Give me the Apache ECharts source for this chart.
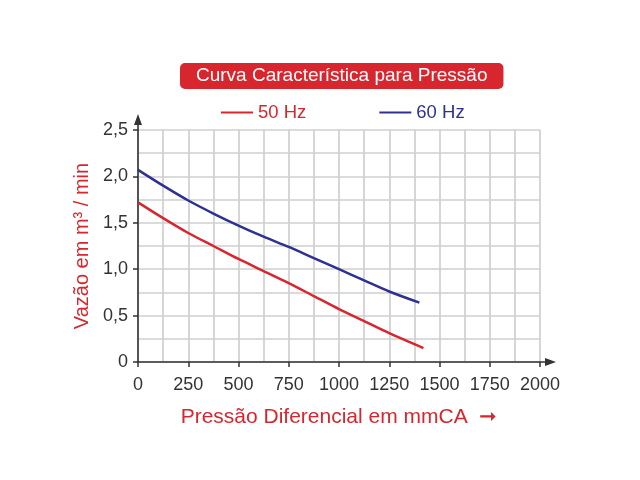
<!DOCTYPE html>
<html><head><meta charset="utf-8">
<script src="https://cdn.jsdelivr.net/npm/echarts@6/dist/echarts.min.js"></script>
<style>html,body{margin:0;padding:0;background:#fff}#c{width:640px;height:480px}</style>
</head><body><div id="c"></div>
<script>
const titleText = 'Curva Característica para Pressão';
const seriesNames = ['50 Hz', '60 Hz'];
const xAxisName = 'Pressão Diferencial em mmCA';
const yAxisName = 'Vazão em m³ / min';
const yTickLabels = ['0', '0,5', '1,0', '1,5', '2,0', '2,5'];
const xTickLabels = ['0', '250', '500', '750', '1000', '1250', '1500', '1750', '2000'];
const pressure50 = [0, 125, 250, 375, 500, 625, 750, 875, 1000, 1125, 1250, 1420];
const flow50 = [1.72, 1.55, 1.39, 1.25, 1.11, 0.98, 0.85, 0.71, 0.57, 0.44, 0.31, 0.15];
const pressure60 = [0, 125, 250, 375, 500, 625, 750, 875, 1000, 1125, 1250, 1400];
const flow60 = [2.07, 1.90, 1.74, 1.60, 1.47, 1.35, 1.24, 1.12, 1.00, 0.88, 0.76, 0.64];

const RED = '#d7262e', BLUE = '#2e3192';
const FONT = 'Liberation Sans, Arial, sans-serif';
const ARROW = 'path://M4,0 L8,11 L0,11 Z M3.2,10 L4.8,10 L4.8,16 L3.2,16 Z';
const chart = echarts.init(document.getElementById('c'));
const gridLine = {show: true, lineStyle: {color: '#cfcfcf', width: 1.7}};
const axisLine = {show: true, lineStyle: {color: '#333', width: 1.6}, symbol: ['none', ARROW], symbolSize: [8, 16], symbolOffset: [0, 8]};
chart.setOption({
  backgroundColor: '#fff',
  animation: false,
  title: {
    text: titleText, left: 180, top: 63,
    backgroundColor: RED, borderRadius: 5, padding: [3, 16, 3, 16],
    textStyle: {color: '#fff', fontFamily: FONT, fontSize: 19, fontWeight: 'normal', lineHeight: 20}
  },
  legend: {
    top: 98, left: 216, itemGap: 73, itemWidth: 32, itemHeight: 2,
    icon: 'rect',
    data: [
      {name: seriesNames[0], textStyle: {color: RED}},
      {name: seriesNames[1], textStyle: {color: BLUE}}
    ],
    textStyle: {fontFamily: FONT, fontSize: 18.5}
  },
  grid: {left: 138, right: 100, top: 130, bottom: 118},
  xAxis: {
    type: 'value', min: 0, max: 2000, interval: 250,
    name: xAxisName + '  ➞', nameLocation: 'middle', nameGap: 45,
    nameTextStyle: {color: RED, fontFamily: FONT, fontSize: 21},
    axisLine: axisLine,
    axisTick: {show: true, length: 5, lineStyle: {color: '#333', width: 1.5}},
    axisLabel: {margin: 14, color: '#333', fontFamily: FONT, fontSize: 18,
      formatter: (v) => xTickLabels[Math.round(v / 250)]},
    splitLine: gridLine,
    minorTick: {show: false, splitNumber: 2},
    minorSplitLine: gridLine
  },
  yAxis: {
    type: 'value', min: 0, max: 2.5, interval: 0.5,
    name: yAxisName, nameLocation: 'middle', nameGap: 42, nameRotate: 90,
    nameTextStyle: {color: RED, fontFamily: FONT, fontSize: 20},
    axisLine: axisLine,
    axisTick: {show: true, length: 5, lineStyle: {color: '#333', width: 1.5}},
    axisLabel: {margin: 10, color: '#333', fontFamily: FONT, fontSize: 18,
      formatter: (v) => yTickLabels[Math.round(v / 0.5)]},
    splitLine: gridLine,
    minorTick: {show: false, splitNumber: 2},
    minorSplitLine: gridLine
  },
  series: [
    {name: seriesNames[0], type: 'line', smooth: 0.3, showSymbol: false, symbol: 'none',
     color: RED, lineStyle: {color: RED, width: 2.5},
     data: pressure50.map((p, i) => [p, flow50[i]])},
    {name: seriesNames[1], type: 'line', smooth: 0.3, showSymbol: false, symbol: 'none',
     color: BLUE, lineStyle: {color: BLUE, width: 2.5},
     data: pressure60.map((p, i) => [p, flow60[i]])}
  ]
});
</script></body></html>
